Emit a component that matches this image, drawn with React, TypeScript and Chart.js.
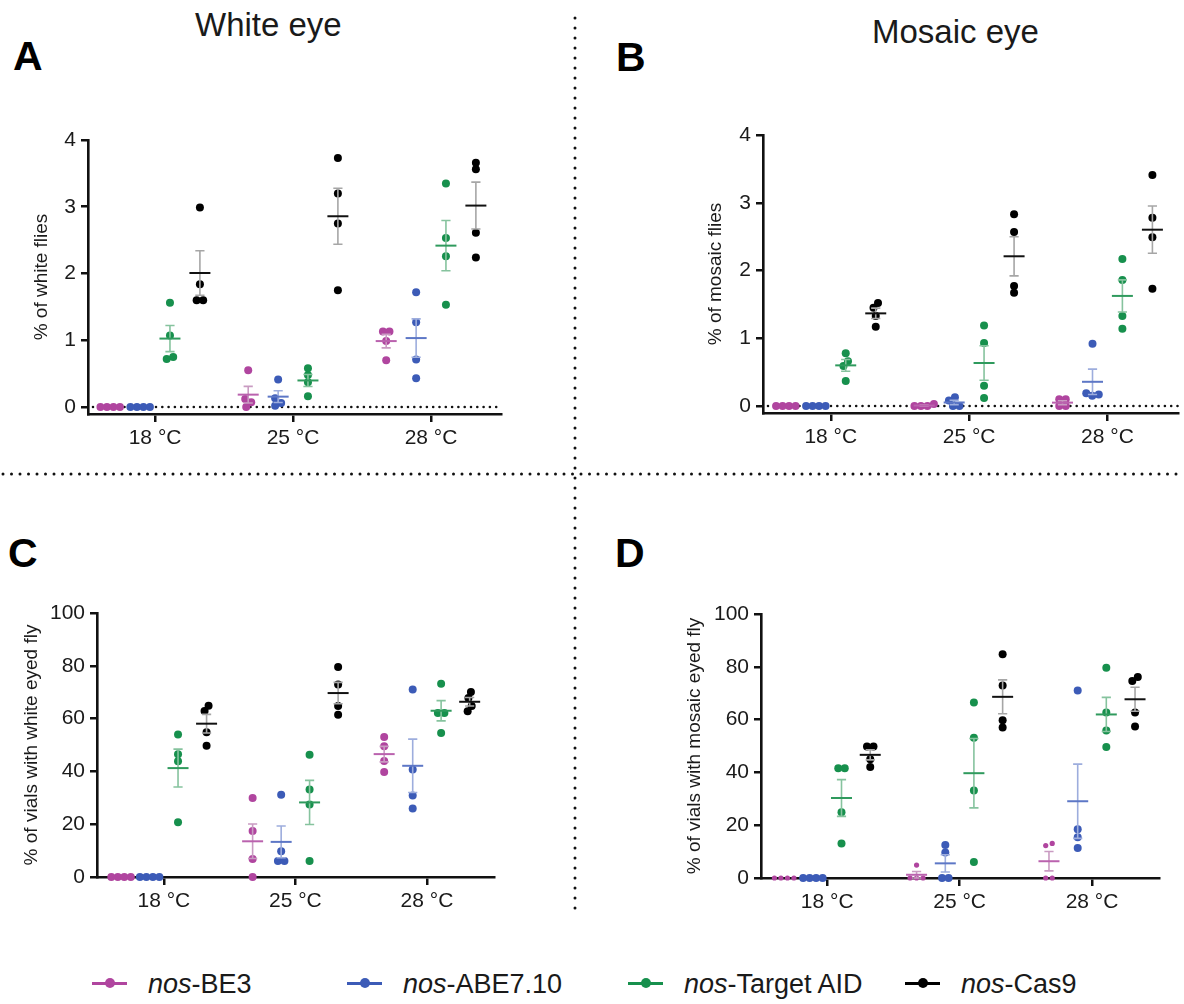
import React, { useEffect, useRef } from 'react';
import { Chart, registerables } from 'chart.js';

Chart.register(...registerables);

const FONT = '"Liberation Sans", Arial, Helvetica, sans-serif';
const TEXT = '#1a1a1a';

const CATEGORIES = ['18 °C', '25 °C', '28 °C'];
const SERIES_NAMES = ['BE3', 'ABE7.10', 'Target AID', 'Cas9'];
const SERIES_COLORS = ['#B0459F', '#3C5BB7', '#17904D', '#000000'];
const MEAN_COLORS = ['#BA62AE', '#5D77C6', '#2F9A5D', '#111111'];
const ERR_COLORS = ['#C99BC2', '#9DADDD', '#86C39E', '#A6A6A6'];

const WHITE_TICKS = [0, 1, 2, 3, 4];
const VIALS_TICKS = [0, 20, 40, 60, 80, 100];

// A: % of white flies  (groups: 18, 25, 28 °C)
const whiteFliesBE3 = [[0, 0, 0, 0], [0.55, 0.12, 0.07, 0], [1.13, 1.13, 0.99, 0.7]];
const whiteFliesABE = [[0, 0, 0, 0], [0.41, 0.13, 0.06, 0.02], [1.72, 1.27, 0.71, 0.43]];
const whiteFliesTAID = [[1.56, 1.07, 0.75, 0.72], [0.58, 0.48, 0.37, 0.16], [3.35, 2.53, 2.26, 1.53]];
const whiteFliesCas9 = [[2.99, 1.84, 1.6, 1.6], [3.73, 3.2, 2.75, 1.75], [3.66, 3.56, 2.61, 2.24]];

// B: % of mosaic flies
const mosaicFliesBE3 = [[0, 0, 0, 0], [0.03, 0, 0, 0], [0.1, 0.1, 0, 0]];
const mosaicFliesABE = [[0, 0, 0, 0], [0.13, 0.08, 0, 0], [0.92, 0.19, 0.17, 0.15]];
const mosaicFliesTAID = [[0.78, 0.66, 0.59, 0.37], [1.19, 0.93, 0.3, 0.12], [2.17, 1.86, 1.33, 1.14]];
const mosaicFliesCas9 = [[1.52, 1.45, 1.33, 1.17], [2.83, 2.57, 1.77, 1.67], [3.41, 2.78, 2.49, 1.73]];

// C: % of vials with white eyed fly
const whiteVialsBE3 = [[0, 0, 0, 0], [29.9, 17.4, 6.8, 0], [53.0, 49.5, 43.9, 39.8]];
const whiteVialsABE = [[0, 0, 0, 0], [31.2, 9.8, 6.1, 6.1], [71.0, 40.7, 30.9, 25.9]];
const whiteVialsTAID = [[54.0, 46.5, 43.8, 20.7], [46.3, 33.1, 27.5, 6.1], [73.2, 62.1, 62.1, 54.5]];
const whiteVialsCas9 = [[64.9, 62.9, 54.8, 49.7], [79.5, 72.9, 64.8, 61.5], [70.1, 67.8, 64.8, 62.8]];

// D: % of vials with mosaic eyed fly
const mosaicVialsBE3 = [[0, 0, 0, 0], [4.9, 0, 0, 0], [13.1, 12.3, 0, 0]];
const mosaicVialsABE = [[0, 0, 0, 0], [12.5, 9.7, 0, 0], [71.0, 18.5, 15.4, 11.4]];
const mosaicVialsTAID = [[41.6, 41.6, 24.9, 13.1], [66.5, 53.1, 33.1, 6.1], [79.6, 62.7, 55.9, 49.6]];
const mosaicVialsCas9 = [[49.8, 49.8, 45.0, 42.0], [84.8, 72.9, 59.8, 57.0], [76.1, 74.6, 62.7, 57.4]];

const SERIES_OFFSETS = [-0.325, -0.108, 0.108, 0.325];

const PANELS = [
  {
    key: 'A', yTitle: '% of white flies',
    series: [whiteFliesBE3, whiteFliesABE, whiteFliesTAID, whiteFliesCas9],
    yTicks: WHITE_TICKS, yMin: -0.105, yMax: 4, zeroLine: true,
    area: { left: 88, right: 501, top: 140, bottom: 414 }, xMin: -0.486, xMax: 2.507, titleX: 41.6,
    radii: [4, 4, 4, 4],
  },
  {
    key: 'B', yTitle: '% of mosaic flies',
    series: [mosaicFliesBE3, mosaicFliesABE, mosaicFliesTAID, mosaicFliesCas9],
    yTicks: WHITE_TICKS, yMin: -0.103, yMax: 4, zeroLine: true,
    area: { left: 763, right: 1178, top: 135, bottom: 413 }, xMin: -0.49, xMax: 2.51, titleX: 716,
    radii: [4, 4, 4, 4],
  },
  {
    key: 'C', yTitle: '% of vials with white eyed fly',
    series: [whiteVialsBE3, whiteVialsABE, whiteVialsTAID, whiteVialsCas9],
    yTicks: VIALS_TICKS, yMin: 0, yMax: 100, zeroLine: false,
    area: { left: 97, right: 494, top: 613, bottom: 877 }, xMin: -0.508, xMax: 2.51, titleX: 31.6,
    radii: [4, 4, 4, 4],
  },
  {
    key: 'D', yTitle: '% of vials with mosaic eyed fly',
    series: [mosaicVialsBE3, mosaicVialsABE, mosaicVialsTAID, mosaicVialsCas9],
    yTicks: VIALS_TICKS, yMin: 0, yMax: 100, zeroLine: false,
    area: { left: 761, right: 1159, top: 614, bottom: 878 }, xMin: -0.5, xMax: 2.506, titleX: 695,
    radii: [2.6, 4, 4, 4],
  },
];

const YW = 85;
const PT = 20;
const PR = 5;
const XH = 50;
const SWARM_D = 6.5;
const TICK_FONT = 21;
const TITLE_FONT = 19;

function swarmOffsets(vals: number[], pxPerUnit: number, D: number): number[] {
  const order = vals.map((_, i) => i).sort((a, b) => vals[a] - vals[b]);
  const clusters: number[][] = [];
  let cur: number[] = [];
  order.forEach((i, k) => {
    if (k > 0 && (vals[i] - vals[order[k - 1]]) * pxPerUnit >= D) {
      clusters.push(cur);
      cur = [];
    }
    cur.push(i);
  });
  if (cur.length) clusters.push(cur);
  const out = new Array(vals.length).fill(0);
  clusters.forEach((cl) => {
    const placed: { dx: number; py: number }[] = [];
    cl.forEach((i) => {
      const py = vals[i] * pxPerUnit;
      let dx = 0;
      for (let step = 0; step < 400; step++) {
        const cands = step === 0 ? [0] : [step * 0.5, -step * 0.5];
        let found: number | null = null;
        for (const c of cands) {
          if (placed.every((p) => (c - p.dx) ** 2 + (py - p.py) ** 2 >= D * D - 1e-6)) {
            found = c;
            break;
          }
        }
        if (found !== null) {
          dx = found;
          break;
        }
      }
      placed.push({ dx, py });
      out[i] = dx;
    });
    const mn = Math.min(...placed.map((p) => p.dx));
    const mx = Math.max(...placed.map((p) => p.dx));
    const shift = (mn + mx) / 2;
    cl.forEach((i) => {
      out[i] -= shift;
    });
  });
  return out;
}

function meanSem(vals: number[]) {
  const n = vals.length;
  const m = vals.reduce((a, b) => a + b, 0) / n;
  const sd = Math.sqrt(vals.reduce((a, b) => a + (b - m) ** 2, 0) / (n - 1));
  return { m, sem: sd / Math.sqrt(n) };
}

function makePlugins(panel: any) {
  const zeroLine = {
    id: 'zeroLine' + panel.key,
    beforeDatasetsDraw(chart: any) {
      if (!panel.zeroLine) return;
      const { ctx, chartArea, scales } = chart;
      const y0 = scales.y.getPixelForValue(0);
      ctx.save();
      ctx.strokeStyle = '#111';
      ctx.lineWidth = 2.6;
      ctx.lineCap = 'round';
      ctx.setLineDash([0, 6.3]);
      ctx.beginPath();
      ctx.moveTo(chartArea.left + 5, y0);
      ctx.lineTo(chartArea.right, y0);
      ctx.stroke();
      ctx.restore();
    },
  };
  const errBars = {
    id: 'errBars' + panel.key,
    afterDatasetsDraw(chart: any) {
      const { ctx, scales } = chart;
      const x = scales.x;
      const y = scales.y;
      ctx.save();
      panel.series.forEach((groups: number[][], s: number) => {
        groups.forEach((vals: number[], g: number) => {
          const { m, sem } = meanSem(vals);
          if (m === 0 && sem === 0) return;
          const cx = x.getPixelForValue(g + SERIES_OFFSETS[s]);
          const yM = y.getPixelForValue(m);
          const yT = y.getPixelForValue(m + sem);
          const yB = y.getPixelForValue(Math.max(m - sem, panel.yMin));
          ctx.strokeStyle = ERR_COLORS[s];
          ctx.lineWidth = 1.6;
          ctx.beginPath();
          ctx.moveTo(cx, yT);
          ctx.lineTo(cx, yB);
          ctx.moveTo(cx - 4.6, yT);
          ctx.lineTo(cx + 4.6, yT);
          ctx.moveTo(cx - 4.6, yB);
          ctx.lineTo(cx + 4.6, yB);
          ctx.stroke();
          ctx.strokeStyle = MEAN_COLORS[s];
          ctx.lineWidth = 2;
          ctx.beginPath();
          ctx.moveTo(cx - 10.5, yM);
          ctx.lineTo(cx + 10.5, yM);
          ctx.stroke();
        });
      });
      ctx.restore();
    },
  };
  return [zeroLine, errBars];
}

function Panel({ panel }: { panel: any }) {
  const ref = useRef<HTMLCanvasElement | null>(null);
  const a = panel.area;
  const left = a.left - YW;
  const top = a.top - PT;
  const width = a.right - a.left + YW + PR;
  const height = a.bottom - a.top + PT + XH;

  useEffect(() => {
    if (!ref.current) return;
    const plotW = a.right - a.left;
    const plotH = a.bottom - a.top;
    const pxPerGroup = plotW / (panel.xMax - panel.xMin);
    const pxPerUnit = plotH / (panel.yMax - panel.yMin);
    const datasets = panel.series.map((groups: number[][], s: number) => ({
      label: SERIES_NAMES[s],
      data: groups.flatMap((vals: number[], g: number) => {
        const j = swarmOffsets(vals, pxPerUnit, SWARM_D);
        return vals.map((v, i) => ({ x: g + SERIES_OFFSETS[s] + j[i] / pxPerGroup, y: v }));
      }),
      backgroundColor: SERIES_COLORS[s],
      borderWidth: 0,
      pointRadius: panel.radii[s],
      pointHoverRadius: panel.radii[s],
      clip: false,
    }));
    const titlePad = panel.titleX - left - (TITLE_FONT * 1.2) / 2;
    const chart = new Chart(ref.current, {
      type: 'scatter',
      data: { datasets },
      plugins: makePlugins(panel),
      options: {
        animation: false,
        responsive: false,
        devicePixelRatio: 1,
        events: [],
        layout: { padding: { left: 0, top: PT, right: PR, bottom: 0 } },
        plugins: { legend: { display: false }, tooltip: { enabled: false } },
        scales: {
          x: {
            type: 'linear',
            min: panel.xMin,
            max: panel.xMax,
            afterBuildTicks: (s: any) => {
              s.ticks = CATEGORIES.map((_, i) => ({ value: i }));
            },
            afterFit: (s: any) => {
              s.height = XH;
              s.paddingLeft = 0;
              s.paddingRight = 0;
            },
            ticks: {
              callback: (v: any) => CATEGORIES[Math.round(v)] ?? '',
              font: { family: FONT, size: TICK_FONT },
              color: TEXT,
              padding: 4,
              maxRotation: 0,
              autoSkip: false,
            },
            grid: {
              display: true,
              drawOnChartArea: false,
              drawTicks: true,
              tickLength: 8,
              tickWidth: 2.5,
              tickColor: '#111',
              color: '#111',
              lineWidth: 2.5,
            },
            border: { display: true, color: '#111', width: 2.6 },
          },
          y: {
            type: 'linear',
            min: panel.yMin,
            max: panel.yMax,
            afterBuildTicks: (s: any) => {
              s.ticks = panel.yTicks.map((v: number) => ({ value: v }));
            },
            afterFit: (s: any) => {
              s.width = YW;
              s.paddingTop = 0;
              s.paddingBottom = 0;
            },
            ticks: {
              callback: (v: any) => String(v),
              font: { family: FONT, size: TICK_FONT },
              color: TEXT,
              padding: 5,
              autoSkip: false,
            },
            grid: {
              display: true,
              drawOnChartArea: false,
              drawTicks: true,
              tickLength: 7,
              tickWidth: 2.5,
              tickColor: '#111',
              color: '#111',
              lineWidth: 2.5,
            },
            border: { display: true, color: '#111', width: 2.6 },
            title: {
              display: true,
              text: panel.yTitle,
              font: { family: FONT, size: TITLE_FONT },
              color: TEXT,
              padding: { top: titlePad, bottom: 0 },
            },
          },
        },
      },
    } as any);
    return () => chart.destroy();
  }, []);

  return (
    <canvas
      ref={ref}
      width={width}
      height={height}
      style={{ position: 'absolute', left, top, width, height }}
    />
  );
}

const LEGEND_POS = [92, 347, 628, 905];

function Legend() {
  return (
    <>
      {SERIES_NAMES.map((name, s) => (
        <div key={name} style={{ position: 'absolute', left: LEGEND_POS[s], top: 960, height: 46 }}>
          <div style={{ position: 'absolute', left: 0, top: 22, width: 35, height: 2.5, background: SERIES_COLORS[s] }} />
          <div
            style={{
              position: 'absolute', left: 12.5, top: 18.2, width: 10, height: 10,
              borderRadius: '50%', background: SERIES_COLORS[s],
            }}
          />
          <div
            style={{
              position: 'absolute', left: 56, top: 11, whiteSpace: 'nowrap',
              font: `27px/27px ${FONT}`, color: TEXT,
            }}
          >
            <i>nos</i>-{name}
          </div>
        </div>
      ))}
    </>
  );
}

function Label({ text, left, baseline, size, bold }: any) {
  return (
    <div
      style={{
        position: 'absolute', left, top: baseline - 0.8465 * size, whiteSpace: 'nowrap',
        font: `${bold ? 'bold ' : ''}${size}px/${size}px ${FONT}`, color: bold ? '#000' : TEXT,
      }}
    >
      {text}
    </div>
  );
}

export default function App() {
  return (
    <div
      style={{
        position: 'absolute', left: 0, top: 0, width: 1184, height: 1004,
        overflow: 'hidden', background: '#fff', fontFamily: FONT,
      }}
    >
      <svg width={1184} height={1004} style={{ position: 'absolute', left: 0, top: 0 }}>
        <line x1={575} y1={18} x2={575} y2={912} stroke="#111" strokeWidth={3} strokeLinecap="round" strokeDasharray="0 10" />
        <line x1={3} y1={474} x2={1184} y2={474} stroke="#111" strokeWidth={3} strokeLinecap="round" strokeDasharray="0 8.5" />
      </svg>
      <Label text="White eye" left={195} baseline={36} size={33} />
      <Label text="Mosaic eye" left={872} baseline={43} size={33} />
      <Label text="A" left={13} baseline={71} size={41} bold />
      <Label text="B" left={616} baseline={72} size={41} bold />
      <Label text="C" left={8} baseline={568} size={41} bold />
      <Label text="D" left={615} baseline={568} size={41} bold />
      {PANELS.map((p) => (
        <Panel key={p.key} panel={p} />
      ))}
      <Legend />
    </div>
  );
}
